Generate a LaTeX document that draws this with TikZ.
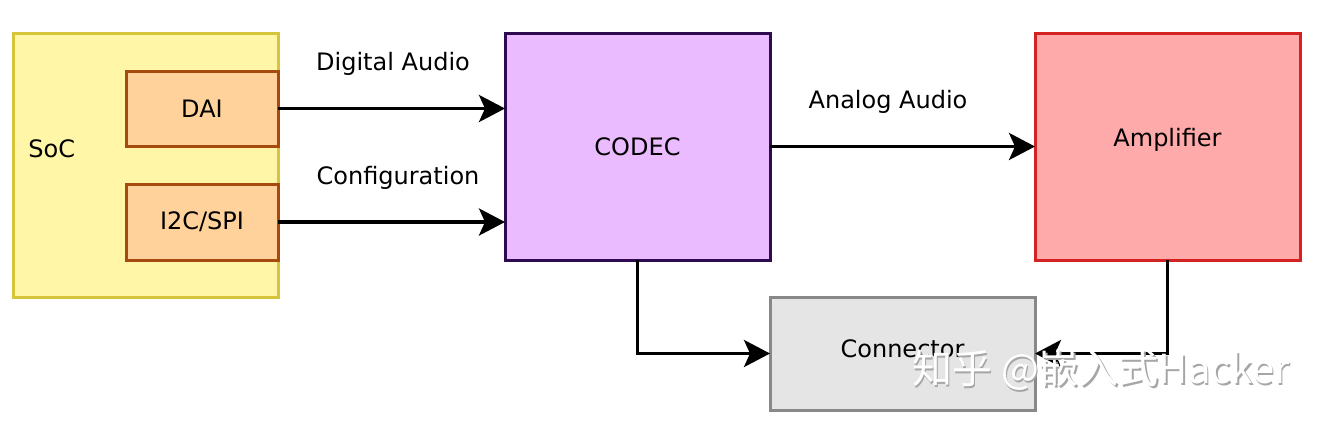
\documentclass[tikz,border=0pt]{standalone}
\usepackage{fontspec}
\setmainfont{DejaVu Sans}
\newfontfamily\cjkwm{Noto Sans CJK SC}
\usetikzlibrary{arrows.meta}
\definecolor{socfill}{HTML}{FFF6A8}
\definecolor{socdraw}{HTML}{D6C53A}
\definecolor{ifill}{HTML}{FFD29B}
\definecolor{idraw}{HTML}{A64A10}
\definecolor{cfill}{HTML}{EBBBFF}
\definecolor{cdraw}{HTML}{2E0A50}
\definecolor{afill}{HTML}{FFAAAA}
\definecolor{adraw}{HTML}{D42222}
\definecolor{kfill}{HTML}{E5E5E5}
\definecolor{kdraw}{HTML}{888888}
\tikzset{
  blk/.style={draw, rectangle, inner sep=0pt, outer sep=0pt, line width=1.5pt, font=\fontsize{12}{14}\selectfont},
  lbl/.style={inner sep=0pt, font=\fontsize{12}{14}\selectfont},
  conn/.style={line width=1.75pt, -{Stealth[length=13pt, width=13.5pt, inset=3pt]}}
}
\begin{document}
\begin{tikzpicture}[x=0.5pt, y=-0.5pt]
\useasboundingbox (0,0) rectangle (1320,424);
\node[blk, fill=socfill, draw=socdraw, minimum width=132.5pt, minimum height=132pt] (soc) at (145.5,165) {};
\node[lbl, anchor=west] (soclabel) at (28,149) {SoC};
\node[blk, fill=ifill, draw=idraw, minimum width=76pt, minimum height=37.5pt] (dai) at (202,108.5) {DAI};
\node[blk, fill=ifill, draw=idraw, minimum width=76pt, minimum height=38pt] (i2c) at (202,222) {I2C/SPI};
\node[blk, fill=cfill, draw=cdraw, minimum width=132.5pt, minimum height=113.5pt] (codec) at (637.5,146.5) {CODEC};
\node[blk, fill=afill, draw=adraw, minimum width=132.5pt, minimum height=113.5pt,
  label={[lbl, yshift=3.5pt, name=amplabel]center:Amplifier}] (amp) at (1167.5,146.5) {};
\node[blk, fill=kfill, draw=kdraw, minimum width=132.5pt, minimum height=56.5pt,
  label={[lbl, yshift=2.5pt, name=connlabel]center:Connector}] (conn) at (902.5,353.5) {};

\draw[conn] (dai.east) -- (codec.west |- dai.east);
\draw[conn] (i2c.east) -- (codec.west |- i2c.east);
\draw[conn] (codec.east) -- (amp.west);
\draw[conn] (codec.south) |- (conn.west);
\draw[conn] (amp.south) |- (conn.east);

\node[lbl] (ldig) at (393,64) {Digital Audio};
\node[lbl] (lcfg) at (398,178) {Configuration};
\node[lbl] (lana) at (888,102) {Analog Audio};

\node[inner sep=0pt, text=gray!70, font=\cjkwm\fontsize{20}{23}\selectfont] (wmshadow) at (1102.5,372) {知乎 @嵌入式Hacker};
\node[inner sep=0pt, text=white, font=\cjkwm\fontsize{20}{23}\selectfont] (wm) at (1101,370) {知乎 @嵌入式Hacker};
\end{tikzpicture}
\end{document}
